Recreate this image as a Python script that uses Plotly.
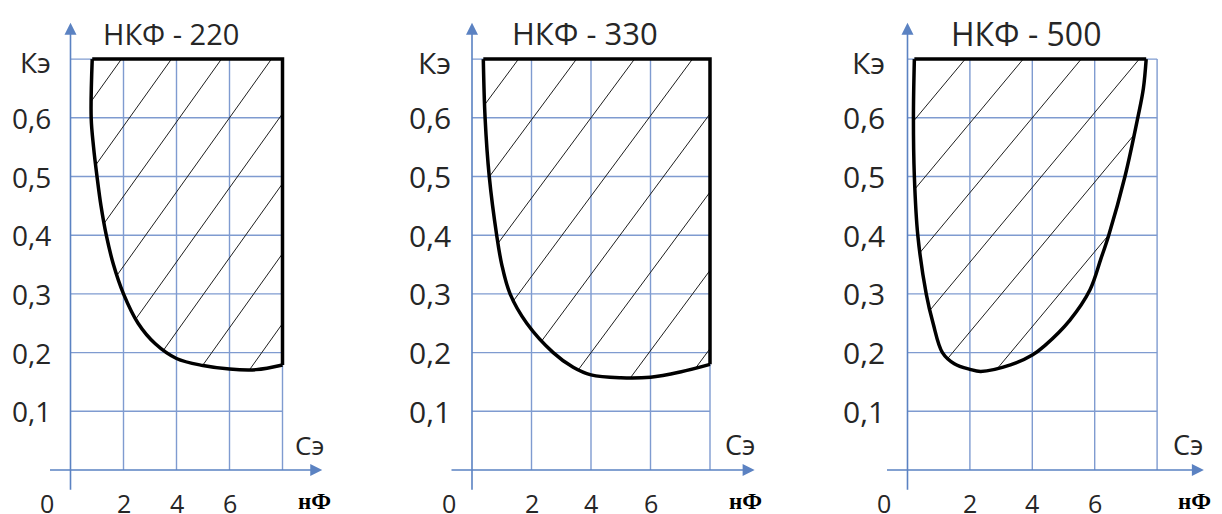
import numpy as np
import plotly.graph_objects as go

# ---------------- data ----------------
titles = ["НКФ - 220", "НКФ - 330", "НКФ - 500"]

y_ticks = [0.1, 0.2, 0.3, 0.4, 0.5, 0.6]
y_tick_labels = ["0,1", "0,2", "0,3", "0,4", "0,5", "0,6"]
x_ticks = [2, 4, 6]
x_tick_labels = ["2", "4", "6"]
x_grid = [2, 4, 6, 8]
y_grid = [0.1, 0.2, 0.3, 0.4, 0.5, 0.6, 0.7]
K_MAX = 0.7      # level labelled "Кэ"
C_MAX = 8.0      # right border of the grid

# boundary of the working zone, НКФ-220 (Сэ, нФ  /  Кэ)
c220 = [0.82, 0.78, 0.87, 1.00, 1.15, 1.35, 1.62, 2.00, 2.55, 3.20, 4.00, 5.00, 6.00, 7.00, 8.00]
k220 = [0.70, 0.60, 0.55, 0.50, 0.45, 0.40, 0.35, 0.30, 0.25, 0.215, 0.19, 0.178, 0.172, 0.171, 0.179]

# НКФ-330
c330 = [0.38, 0.44, 0.58, 0.83, 1.00, 1.28, 1.84, 2.73, 3.40, 4.00, 5.00, 6.00, 7.00, 8.00]
k330 = [0.70, 0.60, 0.50, 0.40, 0.35, 0.30, 0.25, 0.20, 0.175, 0.162, 0.157, 0.158, 0.167, 0.180]

# НКФ-500 (closed U-shaped zone)
c500 = [0.22, 0.19, 0.22, 0.33, 0.60, 0.82, 1.12, 1.50, 2.00, 2.35, 3.30, 4.00, 4.40, 5.20, 5.85,
        6.20, 6.45, 6.97, 7.38, 7.56, 7.65]
k500 = [0.70, 0.60, 0.50, 0.40, 0.30, 0.25, 0.20, 0.181, 0.1715, 0.168, 0.179, 0.196, 0.212, 0.255,
        0.307, 0.36, 0.40, 0.50, 0.60, 0.65, 0.70]

# ---------------- layout / style ----------------
W, H = 1222, 514
Y0_PX, Y_UNIT = 470.0, 587.0          # pixel row of Кэ=0, pixels per 1.0 of Кэ
GRID_COLOR = "#7f9bd0"
AXIS_COLOR = "#5b82c2"
TEXT_COLOR = "#262626"
FONT = "Open Sans"

panels = [
    dict(c=c220, k=k220, closed=False, x0=70.5, u=26.5, dom=(0, 345),
         slope_px=1.40, gap_px=50, anchor=(6, 0.6), lab_shift=-18, zero_shift=-24,
         f_title=29, f_tick=28, f_k=28, f_c=26),
    dict(c=c330, k=k330, closed=False, x0=472.0, u=29.75, dom=(345, 780),
         slope_px=1.35, gap_px=58, anchor=(4, 0.6), lab_shift=-19, zero_shift=-23,
         f_title=31, f_tick=30, f_k=30, f_c=27),
    dict(c=c500, k=k500, closed=True, x0=907.5, u=31.2, dom=(780, 1222),
         slope_px=1.20, gap_px=58, anchor=(4, 0.6), lab_shift=-21, zero_shift=-24,
         f_title=32, f_tick=30, f_k=30, f_c=27),
]


def catmull_rom(xs, ys, n=24):
    p = np.column_stack([xs, ys]).astype(float)
    p = np.vstack([p[0], p, p[-1]])
    out = []
    for i in range(1, len(p) - 2):
        p0, p1, p2, p3 = p[i - 1], p[i], p[i + 1], p[i + 2]
        t = np.linspace(0, 1, n, endpoint=False)[:, None]
        seg = 0.5 * ((2 * p1) + (-p0 + p2) * t + (2 * p0 - 5 * p1 + 4 * p2 - p3) * t ** 2
                     + (-p0 + 3 * p1 - 3 * p2 + p3) * t ** 3)
        out.append(seg)
    out.append(p[-2][None, :])
    return np.vstack(out)


def inside(px, py, poly):
    res = np.zeros(px.shape, dtype=bool)
    xi, yi = poly[:, 0], poly[:, 1]
    xj, yj = np.roll(xi, 1), np.roll(yi, 1)
    for a, b, c, d in zip(xi, yi, xj, yj):
        if b == d:
            continue
        cond = ((b > py) != (d > py)) & (px < (c - a) * (py - b) / (d - b) + a)
        res ^= cond
    return res


fig = go.Figure()
annotations = []
y_range = [(Y0_PX - H) / Y_UNIT, Y0_PX / Y_UNIT]

for i, p in enumerate(panels):
    n = "" if i == 0 else str(i + 1)
    xr, yr = "x" + n, "y" + n
    u, x0 = p["u"], p["x0"]
    d0, d1 = p["dom"]
    fig.update_layout({
        "xaxis" + n: dict(domain=[d0 / W, d1 / W], range=[(d0 - x0) / u, (d1 - x0) / u],
                          visible=False, fixedrange=True, anchor=yr),
        "yaxis" + n: dict(domain=[0, 1], range=y_range, visible=False, fixedrange=True, anchor=xr),
    })

    # grid
    gx, gy = [], []
    for xv in x_grid:
        gx += [xv, xv, None]
        gy += [0, K_MAX, None]
    for yv in y_grid:
        gx += [0, C_MAX, None]
        gy += [yv, yv, None]
    fig.add_trace(go.Scatter(x=gx, y=gy, mode="lines", xaxis=xr, yaxis=yr,
                             line=dict(color=GRID_COLOR, width=1.4), hoverinfo="skip"))

    # zone polygon (for clipping the hatching)
    dense = catmull_rom(p["c"], p["k"])
    if p["closed"]:
        poly = dense
    else:
        poly = np.vstack([dense, [[p["c"][-1], K_MAX]]])

    # hatching
    m = p["slope_px"] * u / Y_UNIT
    gap = p["gap_px"] / u
    xa, ya = p["anchor"]
    xs = np.arange(-1.0, 9.0, 0.004)
    hx, hy = [], []
    for kk in range(-12, 12):
        ys = ya + m * (xs - xa - kk * gap)
        ins = inside(xs, ys, poly)
        if not ins.any():
            continue
        idx = np.flatnonzero(ins)
        breaks = np.flatnonzero(np.diff(idx) > 1)
        starts = np.r_[idx[0], idx[breaks + 1]]
        ends = np.r_[idx[breaks], idx[-1]]
        for s, e in zip(starts, ends):
            hx += [xs[s], xs[e], None]
            hy += [ys[s], ys[e], None]
    fig.add_trace(go.Scatter(x=hx, y=hy, mode="lines", xaxis=xr, yaxis=yr,
                             line=dict(color="#1e1e1e", width=1), hoverinfo="skip"))

    # outline
    fig.add_trace(go.Scatter(x=p["c"], y=p["k"], mode="lines", xaxis=xr, yaxis=yr,
                             line=dict(color="black", width=3.5, shape="spline"), hoverinfo="skip"))
    if p["closed"]:
        ox = [p["c"][-1], p["c"][0]]
        oy = [K_MAX, K_MAX]
    else:
        ox = [p["c"][-1], p["c"][-1], p["c"][0]]
        oy = [p["k"][-1], K_MAX, K_MAX]
    fig.add_trace(go.Scatter(x=ox, y=oy, mode="lines", xaxis=xr, yaxis=yr,
                             line=dict(color="black", width=3.5), hoverinfo="skip"))

    # axes with arrows
    annotations.append(dict(x=9.5, y=0, ax=-22 / u, ay=0, xref=xr, yref=yr, axref=xr, ayref=yr,
                            text="", showarrow=True, arrowhead=2, arrowsize=1.5, arrowwidth=1.6,
                            arrowcolor=AXIS_COLOR))
    annotations.append(dict(x=0, y=0.762, ax=0, ay=-0.036, xref=xr, yref=yr, axref=xr, ayref=yr,
                            text="", showarrow=True, arrowhead=2, arrowsize=1.5, arrowwidth=1.6,
                            arrowcolor=AXIS_COLOR))

    tfont = dict(family=FONT, size=p["f_tick"], color=TEXT_COLOR)
    bfont = dict(family=FONT, size=25, color=TEXT_COLOR)
    # title
    annotations.append(dict(x=3.8, y=0.744, xref=xr, yref=yr, text=titles[i], showarrow=False,
                            font=dict(family=FONT, size=p["f_title"], color=TEXT_COLOR)))
    # y tick labels
    for yv, lab in zip(y_ticks, y_tick_labels):
        annotations.append(dict(x=0, y=yv, xref=xr, yref=yr, text=lab, showarrow=False,
                                xanchor="right", xshift=p["lab_shift"], font=tfont))
    annotations.append(dict(x=0, y=K_MAX, xref=xr, yref=yr, text="Кэ", showarrow=False,
                            xanchor="right", xshift=p["lab_shift"], yshift=-3,
                            font=dict(family=FONT, size=p["f_k"], color=TEXT_COLOR)))
    # x tick labels
    for xv, lab in zip(x_ticks, x_tick_labels):
        annotations.append(dict(x=xv, y=-0.0555, xref=xr, yref=yr, text=lab, showarrow=False,
                                font=bfont))
    annotations.append(dict(x=0, y=-0.0555, xref=xr, yref=yr, text="0", showarrow=False,
                            xshift=p["zero_shift"], font=bfont))
    annotations.append(dict(x=9.0, y=0.043, xref=xr, yref=yr, text="Сэ", showarrow=False,
                            font=dict(family=FONT, size=p["f_c"], color=TEXT_COLOR)))
    annotations.append(dict(x=9.2, y=-0.054, xref=xr, yref=yr, text="<b>нФ</b>", showarrow=False,
                            font=dict(family="Liberation Serif", size=23, color="black")))

fig.update_layout(width=W, height=H, margin=dict(l=0, r=0, t=0, b=0),
                  paper_bgcolor="white", plot_bgcolor="white", showlegend=False,
                  annotations=annotations)

fig.write_html("out.html", config={"displayModeBar": False},
               post_script="document.body.style.margin='0px';document.body.style.overflow='hidden';")
